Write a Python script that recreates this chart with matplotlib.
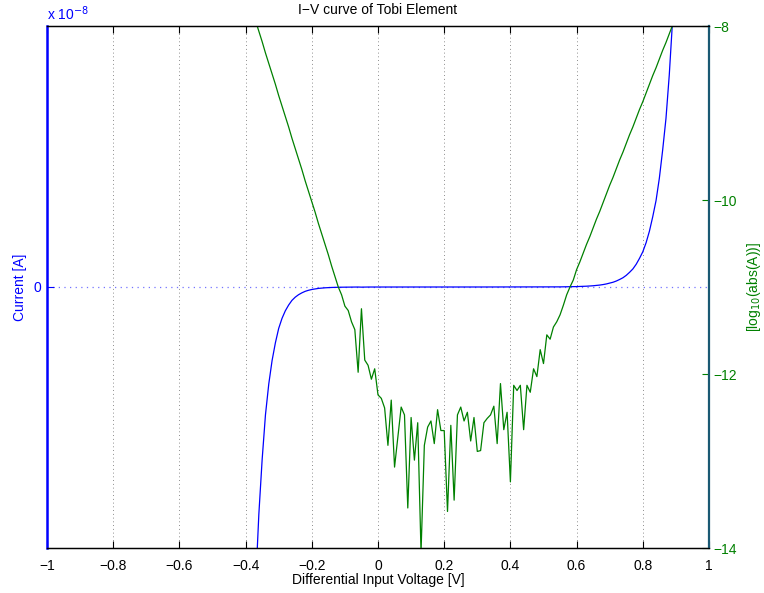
import numpy as np
from matplotlib import pyplot as plt

plt.rcParams['font.family'] = ['Liberation Sans', 'DejaVu Sans']
plt.rcParams['font.size'] = 10

# log10(|I|), one value per 10 mV from -0.38 V to 0.90 V
log_abs_current = [
    -7.82, -7.94, -8.06, -8.18, -8.31, -8.43, -8.55, -8.67, -8.80, -8.92,
    -9.04, -9.16, -9.29, -9.41, -9.53, -9.65, -9.78, -9.90, -10.02, -10.14,
    -10.27, -10.39, -10.51, -10.63, -10.76, -10.88, -11.00,
    -11.09, -11.22, -11.27, -11.40, -11.49, -11.98, -11.25, -11.84, -11.90, -12.06,
    -11.94, -12.24, -12.28, -12.39, -12.82, -12.30, -13.07, -12.72, -12.38, -12.47,
    -13.54, -12.50, -12.99, -12.56, -14.05, -12.82, -12.61, -12.54, -12.80, -12.41,
    -12.65, -12.65, -13.58, -12.59, -13.45, -12.47, -12.38, -12.54, -12.44, -12.77,
    -12.50, -12.89, -12.88, -12.56, -12.51, -12.47, -12.37, -12.80, -12.11, -12.64,
    -12.44, -13.24, -12.13, -12.19, -12.13, -12.64, -12.13, -12.21, -11.94, -12.03,
    -11.72, -11.88, -11.55, -11.60, -11.46, -11.40, -11.32, -11.21, -11.09, -11.00,
    -10.92, -10.80, -10.71,
    -10.61, -10.51, -10.42, -10.32, -10.22, -10.13, -10.03, -9.93, -9.83, -9.74,
    -9.64, -9.54, -9.45, -9.35, -9.25, -9.16, -9.06, -8.96, -8.87, -8.77,
    -8.67, -8.57, -8.48, -8.38, -8.28, -8.19, -8.09, -7.99, -7.90,
]
v_start, v_stop = -0.38, 0.90
v_zero_crossing = 0.15          # current changes sign around here

x_ticks = [-1, -0.8, -0.6, -0.4, -0.2, 0, 0.2, 0.4, 0.6, 0.8, 1]
x_tick_labels = ['\u22121', '\u22120.8', '\u22120.6', '\u22120.4', '\u22120.2',
                 '0', '0.2', '0.4', '0.6', '0.8', '1']
right_ticks = [-14, -12, -10, -8]

volts = np.linspace(v_start, v_stop, len(log_abs_current))
log_abs = np.array(log_abs_current)
current = np.where(volts < v_zero_crossing, -1.0, 1.0) * 10.0 ** log_abs

blue = (0, 0, 1)
green = (0, 0.5, 0)

fig = plt.figure(figsize=(7.64, 5.93), dpi=100)
ax = fig.add_axes([47 / 764, 1 - 548 / 593, 662 / 764, 522 / 593])
ax2 = ax.twinx()

ax.plot(volts, current, color=blue, lw=0.9)
ax.set_xlim(-1, 1)
ax.set_ylim(-1e-8, 1e-8)
ax.set_xticks(x_ticks)
ax.set_xticklabels(x_tick_labels)
ax.set_yticks([0])
ax.set_yticklabels(['0'])
ax.tick_params(axis='x', direction='in', top=True, length=5, width=0.8, pad=8, colors='k')
ax.tick_params(axis='y', direction='in', length=5, width=0.8, colors=blue, pad=4)
ax.xaxis.grid(True, linestyle=(0, (1, 3.5)), color='k', lw=0.6, alpha=0.6)
ax.yaxis.grid(True, linestyle=(0, (1, 3.5)), color=(0.45, 0.45, 1), lw=0.9)
ax.set_xlabel('Differential Input Voltage [V]', labelpad=0)
ax.set_ylabel('Current [A]', color=blue, labelpad=5)
ax.set_title('I\u2212V curve of Tobi Element', fontsize=10, pad=9)
ax.text(0, 1.006, r'x 10$^{-8}$', transform=ax.transAxes, color=blue,
        ha='left', va='bottom', fontsize=10)

ax2.plot(volts, log_abs, color=green, lw=0.9)
ax2.set_ylim(-14, -8)
ax2.set_yticks(right_ticks)
ax2.set_yticklabels(['\u2212%d' % abs(t) for t in right_ticks])
ax2.tick_params(axis='y', direction='in', length=5, width=0.8, colors=green, pad=3)
ax2.set_ylabel(r'[log$_{10}$(abs(A))]', color=green, labelpad=6)

for a in (ax, ax2):
    a.spines['top'].set_color('k')
    a.spines['bottom'].set_color('k')
    a.spines['top'].set_linewidth(0.9)
    a.spines['bottom'].set_linewidth(0.9)
ax.spines['left'].set_color(blue)
ax.spines['left'].set_linewidth(1.8)
ax2.spines['left'].set_visible(False)
ax.spines['right'].set_visible(False)
ax2.spines['right'].set_color((0.1, 0.35, 0.45))
ax2.spines['right'].set_linewidth(1.6)

fig.savefig('out.png', dpi=100)
